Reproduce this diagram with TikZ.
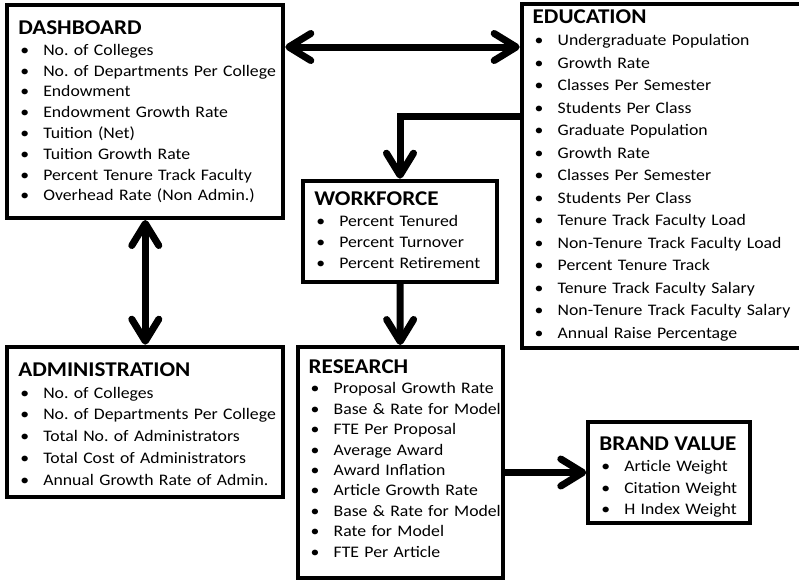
\documentclass[tikz,border=0pt]{standalone}
\usepackage{fontspec}
\setmainfont{Carlito}[FakeStretch=1.1]
\usetikzlibrary{arrows.meta, positioning, calc}

\newcommand{\boxtitle}[1]{{\fontsize{21}{21}\selectfont\bfseries #1}}
\newcommand{\itm}[1]{\\\makebox[25pt][l]{\hspace{2pt}\textbullet}\mbox{#1}}

\begin{document}
\frenchspacing
\begin{tikzpicture}[
        x=1pt, y=-1pt,
        panel/.style={rectangle, draw=black, line width=4pt, anchor=north west, align=left, inner xsep=11pt, text height=13pt},
        link/.style={line width=7pt, -{Straight Barb[round, length=22pt, width=27pt]}},
        dbllink/.style={line width=7pt, {Straight Barb[round, length=22pt, width=27pt]}-{Straight Barb[round, length=22pt, width=27pt]}}
    ]
        \useasboundingbox (0,0) rectangle (799,584);

        % Boxes
        \node[panel, inner ysep=16.5pt, text width=254pt, text depth=167pt, font=\fontsize{16.1}{20.8}\selectfont] (dash) at (5.3,3) {\boxtitle{DASHBOARD}
            \itm{No. of Colleges}
            \itm{No. of Departments Per College}
            \itm{Endowment}
            \itm{Endowment Growth Rate}
            \itm{Tuition (Net)}
            \itm{Tuition Growth Rate}
            \itm{Percent Tenure Track Faculty}
            \itm{Overhead Rate (Non Admin.)}};
        \node[panel, inner ysep=6pt, text width=286pt, text depth=319pt, font=\fontsize{16.1}{22.5}\selectfont] (edu) at (519.7,2) {\boxtitle{EDUCATION}
            \itm{Undergraduate Population}
            \itm{Growth Rate}
            \itm{Classes Per Semester}
            \itm{Students Per Class}
            \itm{Graduate Population}
            \itm{Growth Rate}
            \itm{Classes Per Semester}
            \itm{Students Per Class}
            \itm{Tenure Track Faculty Load}
            \itm{Non-Tenure Track Faculty Load}
            \itm{Percent Tenure Track}
            \itm{Tenure Track Faculty Salary}
            \itm{Non-Tenure Track Faculty Salary}
            \itm{Annual Raise Percentage}};
        \node[panel, inner ysep=12pt, text width=171.4pt, text depth=64pt, font=\fontsize{16.1}{21}\selectfont] (work) at (301.3,178.7) {\boxtitle{WORKFORCE}
            \itm{Percent Tenured}
            \itm{Percent Turnover}
            \itm{Percent Retirement}};
        \node[panel, inner ysep=16.5pt, text width=254pt, text depth=104pt, font=\fontsize{16.1}{21.8}\selectfont] (admin) at (5.3,344.7) {\boxtitle{ADMINISTRATION}
            \itm{No. of Colleges}
            \itm{No. of Departments Per College}
            \itm{Total No. of Administrators}
            \itm{Total Cost of Administrators}
            \itm{Annual Growth Rate of Admin.}};
        \node[panel, inner ysep=13.5pt, text width=183pt, text depth=191pt, font=\fontsize{16.1}{20.4}\selectfont] (research) at (295.7,345) {\boxtitle{RESEARCH}
            \itm{Proposal Growth Rate}
            \itm{Base \& Rate for Model}
            \itm{FTE Per Proposal}
            \itm{Average Award}
            \itm{Award Inflation}
            \itm{Article Growth Rate}
            \itm{Base \& Rate for Model}
            \itm{Rate for Model}
            \itm{FTE Per Article}};
        \node[panel, inner ysep=15.5pt, text width=139.7pt, text depth=57.6pt, font=\fontsize{16.1}{21.5}\selectfont] (brand) at (586.3,419.7) {\boxtitle{BRAND VALUE}
            \itm{Article Weight}
            \itm{Citation Weight}
            \itm{H Index Weight}};

        % Connections
        \coordinate (hub) at ([yshift=-44pt]dash.north east);
        \draw[dbllink] (hub) -- (hub -| edu.west);
        \draw[dbllink] (dash.south) -- (admin.north);
        \draw[link] ([yshift=-114.5pt]edu.north west) -| (work.north);
        \draw[link] (work.south) -- (research.north);
        \draw[link] (brand.west -| research.east) -- (brand.west);
    \end{tikzpicture}
\end{document}
